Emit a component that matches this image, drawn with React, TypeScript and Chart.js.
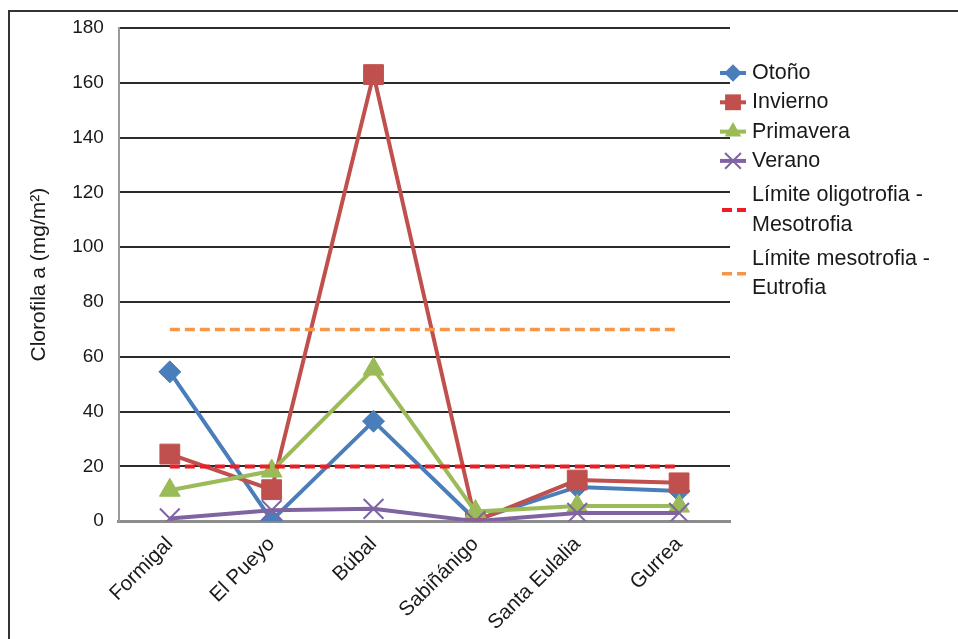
import React, { useEffect, useRef } from 'react';
import { Chart, registerables } from 'chart.js';

Chart.register(...registerables);

const categories = ['Formigal', 'El Pueyo', 'Búbal', 'Sabiñánigo', 'Santa Eulalia', 'Gurrea'];
const otono = [54.5, 0.3, 36.5, 0.5, 12.5, 11];
const invierno = [24.5, 11.5, 163, 0, 15, 14];
const primavera = [11.3, 18.3, 55.5, 3.5, 5.5, 5.5];
const verano = [1, 4, 4.5, 0, 3, 3];
const limiteOligoMeso = [20, 20, 20, 20, 20, 20];
const limiteMesoEu = [70, 70, 70, 70, 70, 70];
const seriesLabels = [
  'Otoño',
  'Invierno',
  'Primavera',
  'Verano',
  'Límite oligotrofia -\nMesotrofia',
  'Límite mesotrofia -\nEutrofia',
];
const yMin = 0;
const yMax = 180;
const yStep = 20;
const yTitle = 'Clorofila a (mg/m²)';

const FONT = "'Liberation Sans', Arial, Helvetica, sans-serif";
const TEXT = '#1a1a1a';

function drawMarker(ctx: CanvasRenderingContext2D, style: string, x: number, y: number, r: number, color: string) {
  ctx.save();
  ctx.fillStyle = color;
  ctx.strokeStyle = color;
  ctx.beginPath();
  if (style === 'rectRot') {
    ctx.moveTo(x - r, y);
    ctx.lineTo(x, y - r);
    ctx.lineTo(x + r, y);
    ctx.lineTo(x, y + r);
    ctx.closePath();
    ctx.fill();
  } else if (style === 'rect') {
    const s = r * Math.SQRT1_2;
    ctx.rect(x - s, y - s, 2 * s, 2 * s);
    ctx.fill();
  } else if (style === 'triangle') {
    ctx.moveTo(x - r * 0.866, y + r * 0.5);
    ctx.lineTo(x, y - r);
    ctx.lineTo(x + r * 0.866, y + r * 0.5);
    ctx.closePath();
    ctx.fill();
  } else if (style === 'crossRot') {
    const s = r * Math.SQRT1_2;
    ctx.lineWidth = 2;
    ctx.moveTo(x - s, y - s);
    ctx.lineTo(x + s, y + s);
    ctx.moveTo(x - s, y + s);
    ctx.lineTo(x + s, y - s);
    ctx.stroke();
  }
  ctx.restore();
}

const legendPlugin = {
  id: 'customLegend',
  afterDraw(chart: any) {
    const ctx: CanvasRenderingContext2D = chart.ctx;
    const area = chart.chartArea;
    const lineH = 29.3;
    const extra = 5.2;
    const textX = area.right + 22;
    const lx0 = area.right - 10;
    const lx1 = area.right + 16;
    const mx = area.right + 3;
    let cursor = area.top + 45;
    ctx.save();
    ctx.font = `21.5px ${FONT}`;
    ctx.textBaseline = 'middle';
    ctx.textAlign = 'left';
    chart.data.datasets.forEach((ds: any) => {
      const lines = String(ds.label).split('\n');
      if (lines.length > 1) cursor += extra;
      const midY = cursor + ((lines.length - 1) * lineH) / 2;
      ctx.save();
      ctx.strokeStyle = ds.borderColor;
      ctx.lineWidth = ds.borderWidth;
      if (ds.borderDash) ctx.setLineDash(ds.borderDash);
      ctx.beginPath();
      ctx.moveTo(ds.borderDash ? lx0 + 2 : lx0, midY);
      ctx.lineTo(lx1, midY);
      ctx.stroke();
      ctx.restore();
      if (ds.pointRadius > 0) drawMarker(ctx, ds.pointStyle, mx, midY, ds.pointRadius * 0.8, ds.borderColor);
      ctx.fillStyle = TEXT;
      lines.forEach((ln: string, k: number) => {
        ctx.fillText(ln, textX, cursor + k * lineH);
      });
      cursor += lines.length * lineH;
    });
    ctx.restore();
  },
};

export default function App() {
  const ref = useRef<HTMLCanvasElement | null>(null);

  useEffect(() => {
    document.body.style.overflow = 'hidden';
    const canvas = ref.current;
    if (!canvas) return;
    const chart = new Chart(canvas, {
      type: 'line',
      data: {
        labels: categories,
        datasets: [
          {
            label: seriesLabels[0],
            data: otono,
            borderColor: '#4a7ebb',
            backgroundColor: '#4a7ebb',
            borderWidth: 4,
            pointStyle: 'rectRot',
            pointRadius: 11,
            pointBorderWidth: 1,
            order: 4,
          },
          {
            label: seriesLabels[1],
            data: invierno,
            borderColor: '#c0504d',
            backgroundColor: '#c0504d',
            borderWidth: 4,
            pointStyle: 'rect',
            pointRadius: 14,
            pointBorderWidth: 1,
            order: 3,
          },
          {
            label: seriesLabels[2],
            data: primavera,
            borderColor: '#9bbb59',
            backgroundColor: '#9bbb59',
            borderWidth: 4,
            pointStyle: 'triangle',
            pointRadius: 12,
            pointBorderWidth: 1,
            order: 2,
          },
          {
            label: seriesLabels[3],
            data: verano,
            borderColor: '#8064a2',
            backgroundColor: '#8064a2',
            borderWidth: 4,
            pointStyle: 'crossRot',
            pointRadius: 14,
            pointBorderWidth: 2,
            order: 1,
          },
          {
            label: seriesLabels[4],
            data: limiteOligoMeso,
            borderColor: '#ee1c25',
            backgroundColor: '#ee1c25',
            borderWidth: 4,
            borderDash: [10, 5],
            pointRadius: 0,
            order: 0,
          },
          {
            label: seriesLabels[5],
            data: limiteMesoEu,
            borderColor: '#f79646',
            backgroundColor: '#f79646',
            borderWidth: 3.5,
            borderDash: [10, 5],
            pointRadius: 0,
            order: 0,
          },
        ],
      },
      options: {
        responsive: false,
        maintainAspectRatio: false,
        animation: false,
        layout: { padding: { left: 9, right: 228, top: 16, bottom: 6 } },
        plugins: {
          legend: { display: false },
          tooltip: { enabled: false },
        },
        scales: {
          x: {
            type: 'category',
            offset: true,
            grid: { display: false, drawTicks: false },
            border: { display: true, color: '#8c8c8c', width: 3 },
            ticks: {
              color: TEXT,
              font: { family: FONT, size: 20.5 },
              maxRotation: 45,
              minRotation: 45,
              padding: 11,
            },
          },
          y: {
            min: yMin,
            max: yMax,
            ticks: {
              stepSize: yStep,
              color: TEXT,
              font: { family: FONT, size: 19 },
              padding: 2,
            },
            grid: {
              drawTicks: true,
              tickLength: 13,
              tickColor: 'rgba(0,0,0,0)',
              lineWidth: 2,
              color: (c: any) => (c.tick && c.tick.value === 0 ? 'rgba(0,0,0,0)' : '#2b2b2b'),
            },
            border: { display: true, color: '#9a9a9a', width: 2 },
            title: {
              display: true,
              text: yTitle,
              color: TEXT,
              font: { family: FONT, size: 21 },
              padding: { top: 8, bottom: 18 },
            },
          },
        },
      },
      plugins: [legendPlugin],
    });
    return () => chart.destroy();
  }, []);

  return (
    <div
      style={{
        position: 'fixed',
        left: 8,
        top: 10,
        width: 950,
        height: 629,
        borderLeft: '2px solid #333',
        borderTop: '2px solid #333',
        overflow: 'hidden',
        background: '#fff',
      }}
    >
      <canvas ref={ref} width={948} height={640} style={{ display: 'block' }} />
    </div>
  );
}
